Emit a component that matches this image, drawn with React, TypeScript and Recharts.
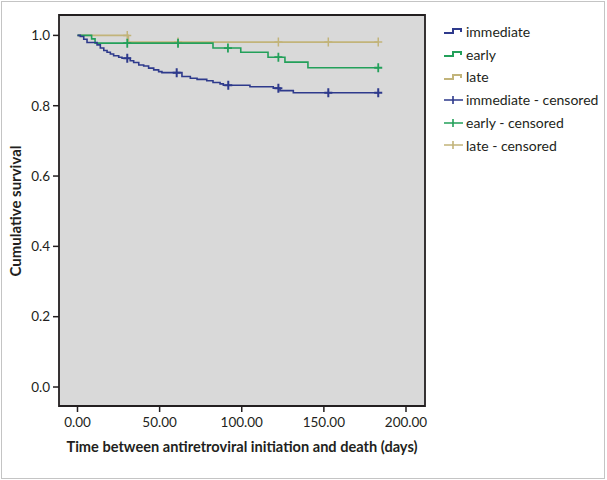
import { ComposedChart, Line, Scatter, XAxis, YAxis, CartesianGrid, ReferenceArea, Legend } from 'recharts';

// Kaplan-Meier steps: time (days) at which survival drops, and the new survival value
const immediateTimes = [0, 1.7, 3.8, 5.8, 11.9, 13.9, 16.0, 18.0, 20.0, 22.0, 25.1, 27.1, 32.1, 34.2, 37.3, 40.3, 43.3, 46.4, 49.4, 51.4, 63.6, 68.7, 72.8, 78.7, 82.5, 86.8, 88.8, 105, 119.2, 123.3, 131.4, 183.1];
const immediateSurvival = [1, 0.997, 0.989, 0.98, 0.973, 0.964, 0.957, 0.952, 0.947, 0.942, 0.938, 0.935, 0.928, 0.923, 0.916, 0.913, 0.907, 0.902, 0.897, 0.894, 0.883, 0.878, 0.875, 0.871, 0.866, 0.862, 0.858, 0.854, 0.85, 0.843, 0.837, 0.837];
const immediateCensored = [30.3, 60.4, 91.8, 122.3, 152.7, 183.1];

const earlyTimes = [0, 8.6, 10.7, 82.5, 99.4, 116, 126.3, 140.3, 183.1];
const earlySurvival = [1, 0.99, 0.978, 0.964, 0.952, 0.938, 0.924, 0.908, 0.908];
const earlyCensored = [30.3, 61.2, 91.6, 122.3, 183.1];

const lateTimes = [0, 31, 183.1];
const lateSurvival = [1, 0.981, 0.981];
const lateCensored = [30.3, 61.2, 122.3, 152.7, 183.1];

const xTicks = [0, 50, 100, 150, 200];
const yTicks = [0, 0.2, 0.4, 0.6, 0.8, 1.0];

const BLUE = '#2e3a8c';
const GREEN = '#23a05a';
const TAN = '#c2b47a';
const INK = '#231f20';
const FONT = 'Lato, sans-serif';

const X_DOMAIN = [-11.26, 211.57];
const Y_DOMAIN = [-0.054, 1.058];

const toSteps = (times: number[], surv: number[]) => times.map((t, i) => ({ t, s: surv[i] }));

const survivalAt = (times: number[], surv: number[], t: number) => {
  let s = surv[0];
  times.forEach((tt, i) => {
    if (tt <= t) s = surv[i];
  });
  return s;
};

const toCensor = (times: number[], surv: number[], censored: number[]) =>
  censored.map((t) => ({ t, s: survivalAt(times, surv, t) }));

const immediateData = toSteps(immediateTimes, immediateSurvival);
const earlyData = toSteps(earlyTimes, earlySurvival);
const lateData = toSteps(lateTimes, lateSurvival);

const immediateCens = toCensor(immediateTimes, immediateSurvival, immediateCensored);
const earlyCens = toCensor(earlyTimes, earlySurvival, earlyCensored);
const lateCens = toCensor(lateTimes, lateSurvival, lateCensored);

const plus = (color: string, width: number) => (props: any) => {
  const { cx, cy } = props;
  return (
    <path
      d={`M${cx - 4},${cy}H${cx + 4}M${cx},${cy - 4.5}V${cy + 4.5}`}
      stroke={color}
      strokeWidth={width}
      fill="none"
    />
  );
};

const legendItems = [
  { name: 'immediate', color: BLUE, kind: 'line' },
  { name: 'early', color: GREEN, kind: 'line' },
  { name: 'late', color: TAN, kind: 'line' },
  { name: 'immediate - censored', color: BLUE, kind: 'cross' },
  { name: 'early - censored', color: GREEN, kind: 'cross' },
  { name: 'late - censored', color: TAN, kind: 'cross' },
];

const LegendContent = () => (
  <div style={{ fontFamily: FONT, fontSize: 14, color: INK }}>
    {legendItems.map((item) => (
      <div key={item.name} style={{ display: 'flex', alignItems: 'center', height: 22.8 }}>
        <svg width={23} height={12} style={{ flex: 'none' }}>
          {item.kind === 'line' ? (
            <path d="M1,8H10V4H18V7" stroke={item.color} strokeWidth={2} fill="none" />
          ) : (
            <path d="M1,6H20M10,2V10" stroke={item.color} strokeWidth={1.6} fill="none" />
          )}
        </svg>
        <span style={{ whiteSpace: 'nowrap' }}>{item.name}</span>
      </div>
    ))}
  </div>
);

const YTitle = () => (
  <text
    x={15}
    y={211}
    transform="rotate(-90, 15, 211)"
    textAnchor="middle"
    dominantBaseline="central"
    fontFamily={FONT}
    fontWeight={700}
    fontSize={15}
    fill={INK}
  >
    Cumulative survival
  </text>
);

const XTitle = () => (
  <text
    x={242}
    y={446}
    textAnchor="middle"
    dominantBaseline="central"
    fontFamily={FONT}
    fontWeight={700}
    fontSize={14.6}
    fill={INK}
  >
    Time between antiretroviral initiation and death (days)
  </text>
);

export default function App() {
  return (
    <div style={{ position: 'absolute', left: 0, top: 0, width: 607, height: 480, background: '#fff' }}>
      <div
        style={{
          position: 'absolute',
          left: 1,
          top: 1,
          width: 602,
          height: 476,
          border: '1px solid #c4c4c4',
          pointerEvents: 'none',
        }}
      />
      <ComposedChart width={607} height={480} margin={{ top: 15, right: 182, bottom: 0, left: 0 }}>
        <CartesianGrid fill="#d9d9d9" horizontal={false} vertical={false} />
        <XAxis
          type="number"
          dataKey="t"
          domain={X_DOMAIN}
          allowDataOverflow
          ticks={xTicks}
          tickFormatter={(v: number) => v.toFixed(2)}
          height={74}
          axisLine={false}
          tickLine={{ stroke: INK, strokeWidth: 1.5 }}
          tickSize={6}
          tickMargin={5}
          tick={{ fill: INK, fontFamily: FONT, fontSize: 13.5 }}
          label={{ content: () => <XTitle /> }}
        />
        <YAxis
          type="number"
          dataKey="s"
          domain={Y_DOMAIN}
          allowDataOverflow
          ticks={yTicks}
          tickFormatter={(v: number) => v.toFixed(1)}
          width={59}
          axisLine={false}
          tickLine={{ stroke: INK, strokeWidth: 1.5 }}
          tickSize={6}
          tickMargin={3}
          tick={{ fill: INK, fontFamily: FONT, fontSize: 13.5 }}
          label={{ content: () => <YTitle /> }}
        />
        <ReferenceArea
          x1={X_DOMAIN[0]}
          x2={X_DOMAIN[1]}
          y1={Y_DOMAIN[0]}
          y2={Y_DOMAIN[1]}
          fill="none"
          stroke={INK}
          strokeWidth={1.8}
          ifOverflow="visible"
        />
        <Line data={lateData} dataKey="s" type="stepAfter" stroke={TAN} strokeWidth={1.6} dot={false} isAnimationActive={false} />
        <Line data={earlyData} dataKey="s" type="stepAfter" stroke={GREEN} strokeWidth={1.6} dot={false} isAnimationActive={false} />
        <Line data={immediateData} dataKey="s" type="stepAfter" stroke={BLUE} strokeWidth={1.6} dot={false} isAnimationActive={false} />
        <Scatter data={lateCens} dataKey="s" shape={plus(TAN, 1.5)} isAnimationActive={false} />
        <Scatter data={earlyCens} dataKey="s" shape={plus(GREEN, 1.8)} isAnimationActive={false} />
        <Scatter data={immediateCens} dataKey="s" shape={plus(BLUE, 2)} isAnimationActive={false} />
        <Legend
          layout="horizontal"
          verticalAlign="middle"
          align="center"
          content={() => <LegendContent />}
          wrapperStyle={{ left: 443, top: 20, width: 164, height: 140 }}
        />
      </ComposedChart>
    </div>
  );
}
